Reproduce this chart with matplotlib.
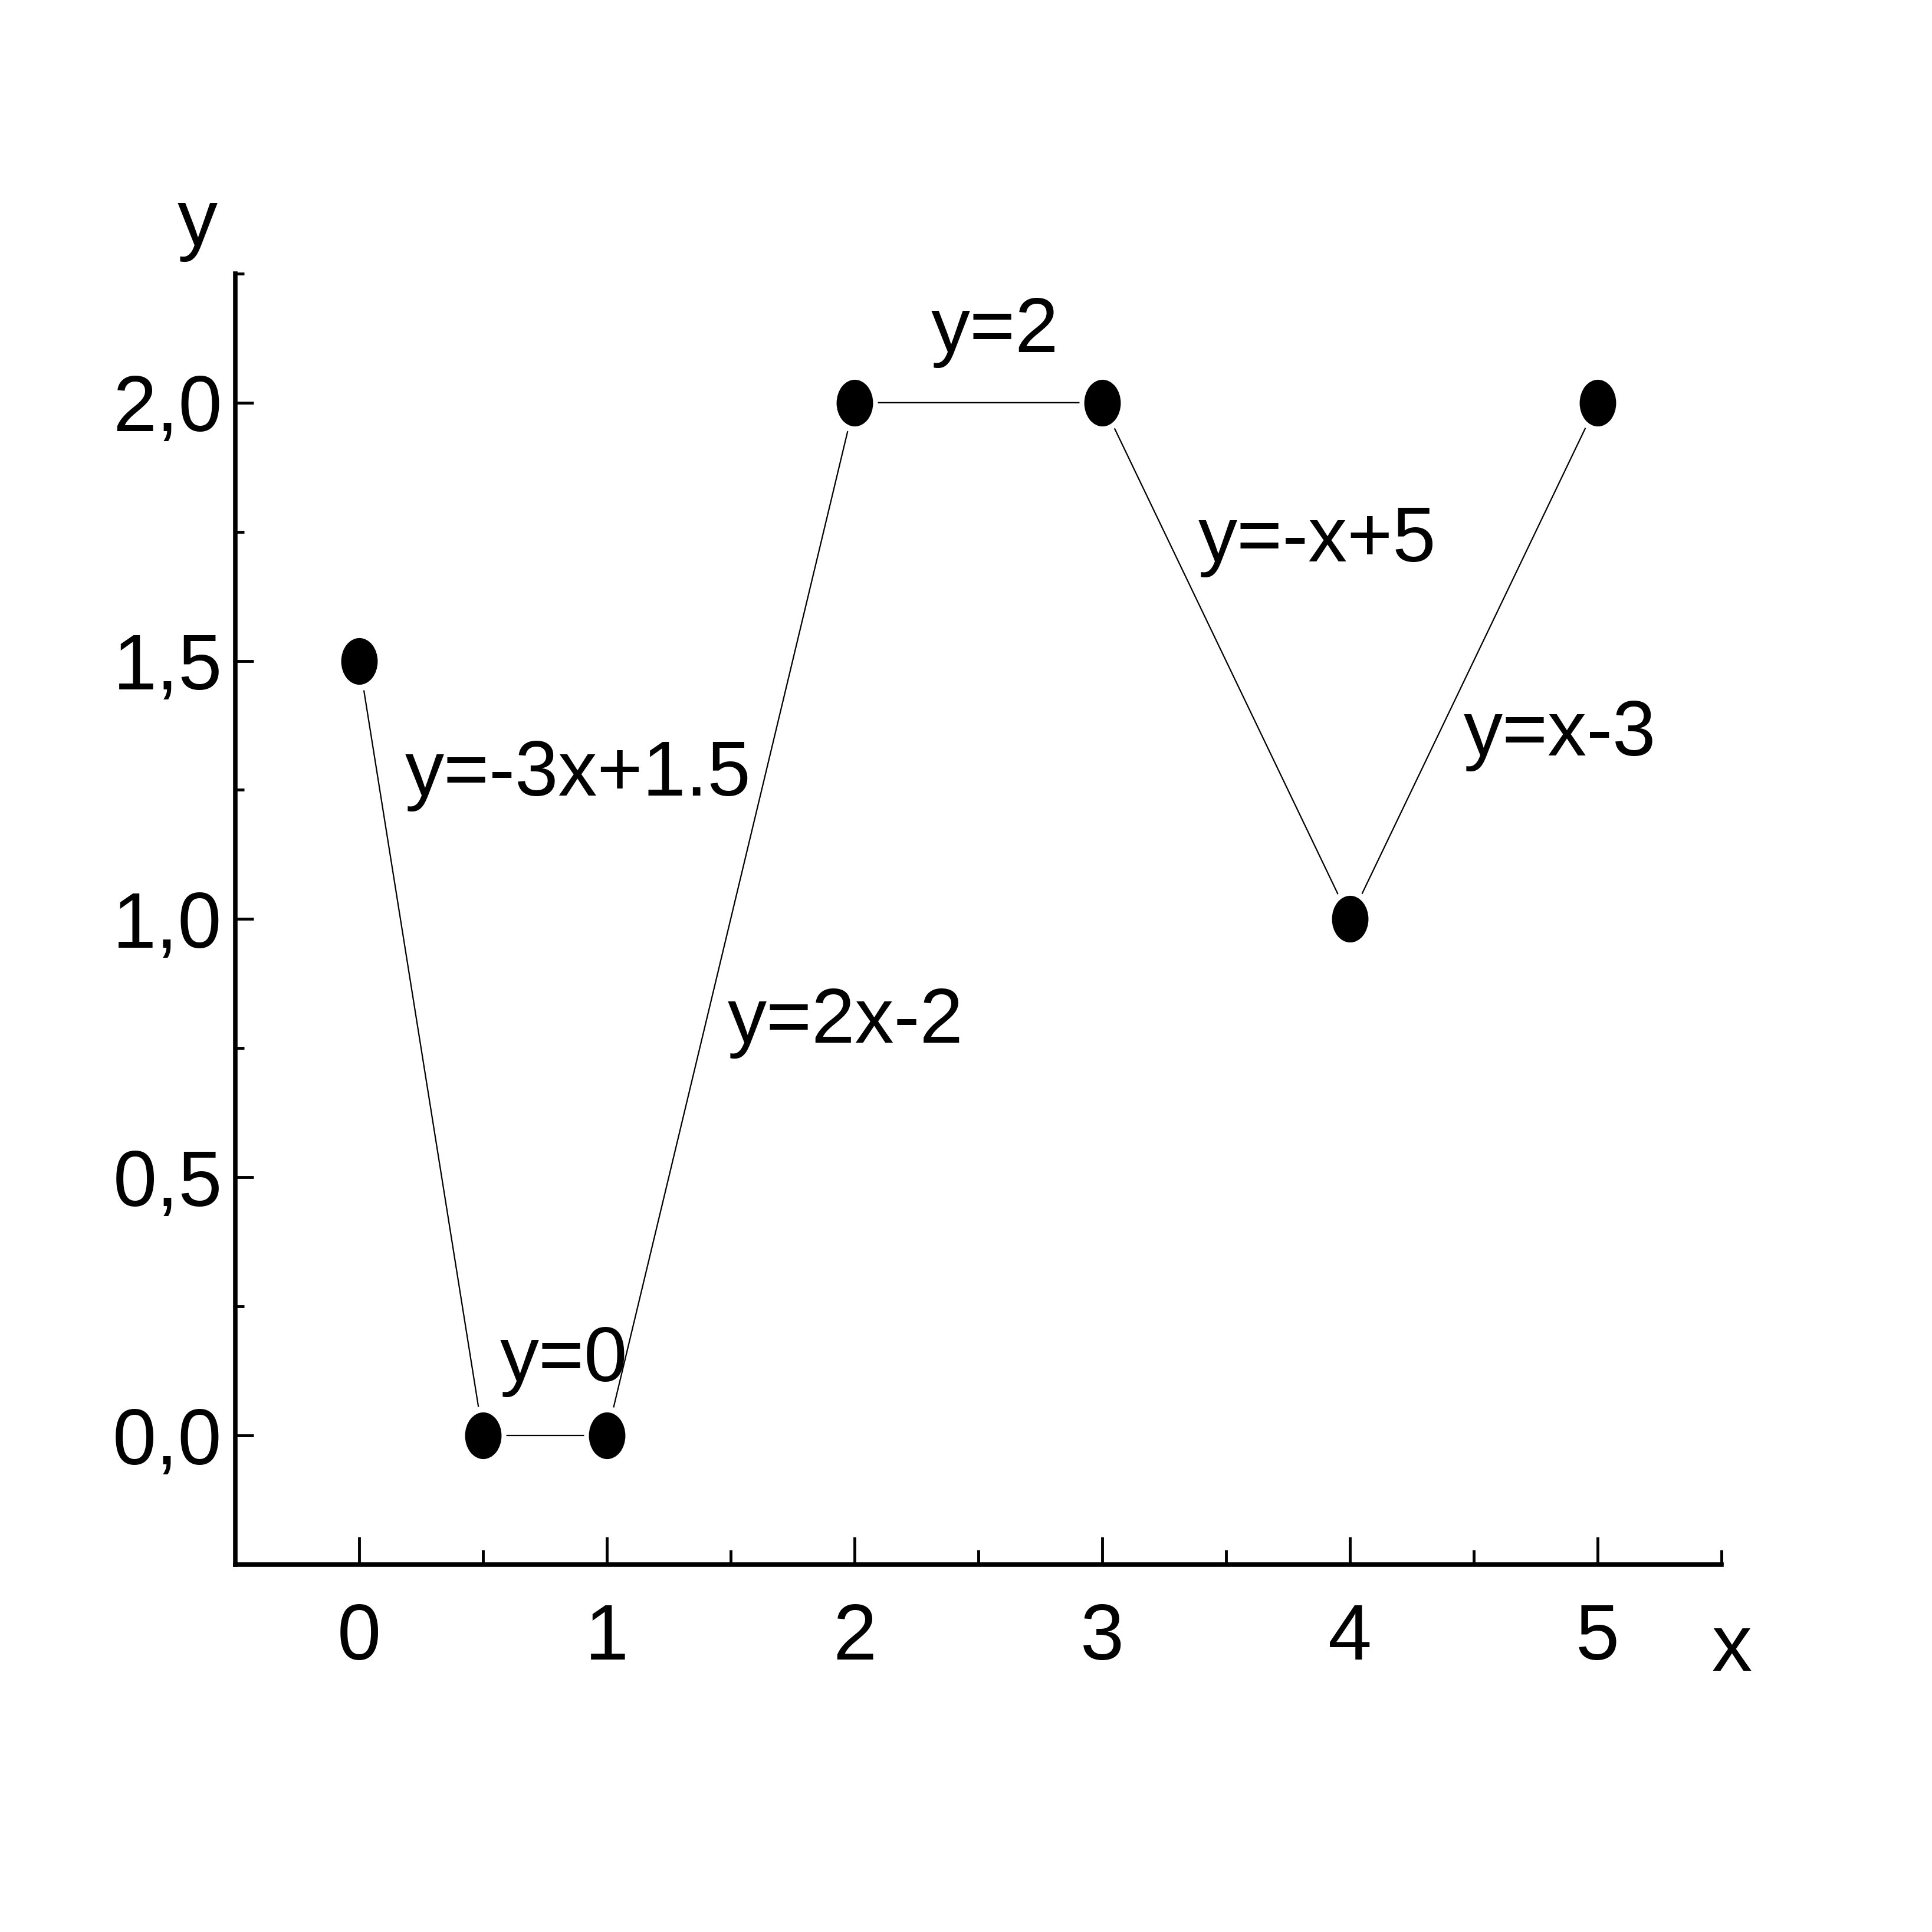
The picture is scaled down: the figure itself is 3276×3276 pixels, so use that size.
import numpy as np
import matplotlib
matplotlib.use('Agg')
import matplotlib.pyplot as plt
from matplotlib.path import Path
from matplotlib.ticker import MultipleLocator

# 数据点
x = [0, 0.5, 1, 2, 3, 4, 5]
y = [1.5, 0, 0, 2, 2, 1, 2]

# 各段的方程标注
labels = ['y=-3x+1.5', 'y=0', 'y=2x-2', 'y=2', 'y=-x+5', 'y=x-3']
label_x = [0.184, 0.567, 1.488, 2.308, 3.388, 4.458]
label_y = [1.239, 0.105, 0.761, 2.098, 1.692, 1.317]

plt.rcParams['font.family'] = ['Liberation Sans', 'DejaVu Sans']

fig = plt.figure(figsize=(32.76, 32.76), dpi=100)
ax = fig.add_axes([0.1218, 0.1902, 0.7692, 0.6682])

# 椭圆形标记 (Origin 风格)
circ = Path.unit_circle()
ellipse = Path(circ.vertices * np.array([1.0, 1.28]), circ.codes)

ax.plot(x, y, color='black', lw=1.6, zorder=2)
# 白色底衬，让连线在点附近断开
ax.plot(x, y, ls='none', marker=ellipse, ms=72, mfc='white', mew=0, zorder=3)
ax.plot(x, y, ls='none', marker=ellipse, ms=57, mfc='black', mew=0, zorder=4)

for t, tx, ty in zip(labels, label_x, label_y):
    ax.text(tx, ty, t, fontsize=95, ha='left', va='baseline', zorder=5)

ax.set_xlim(-0.5, 5.5)
ax.set_ylim(-0.25, 2.25)

ax.spines['top'].set_visible(False)
ax.spines['right'].set_visible(False)
for s in ['left', 'bottom']:
    ax.spines[s].set_linewidth(5.5)

ax.xaxis.set_major_locator(MultipleLocator(1))
ax.xaxis.set_minor_locator(MultipleLocator(0.5))
ax.yaxis.set_major_locator(MultipleLocator(0.5))
ax.yaxis.set_minor_locator(MultipleLocator(0.25))

ax.tick_params(axis='x', which='major', direction='in', length=34, width=3.5, labelsize=96, pad=46)
ax.tick_params(axis='x', which='minor', direction='in', length=18, width=3.5)
ax.tick_params(axis='y', which='major', direction='in', length=22, width=3.5, labelsize=96, pad=16)
ax.tick_params(axis='y', which='minor', direction='in', length=11, width=3.5)

ax.set_xticks([0, 1, 2, 3, 4, 5])
ax.set_xticklabels(['0', '1', '2', '3', '4', '5'])
yt = [0.0, 0.5, 1.0, 1.5, 2.0]
ax.set_yticks(yt)
ax.set_yticklabels([f'{v:.1f}'.replace('.', ',') for v in yt])

# 坐标轴名称
ax.text(-0.652, 2.305, 'y', fontsize=98, ha='center', va='baseline', clip_on=False)
ax.text(5.542, -0.456, 'x', fontsize=98, ha='center', va='baseline', clip_on=False)

fig.savefig('out.png', dpi=100, facecolor='white')
